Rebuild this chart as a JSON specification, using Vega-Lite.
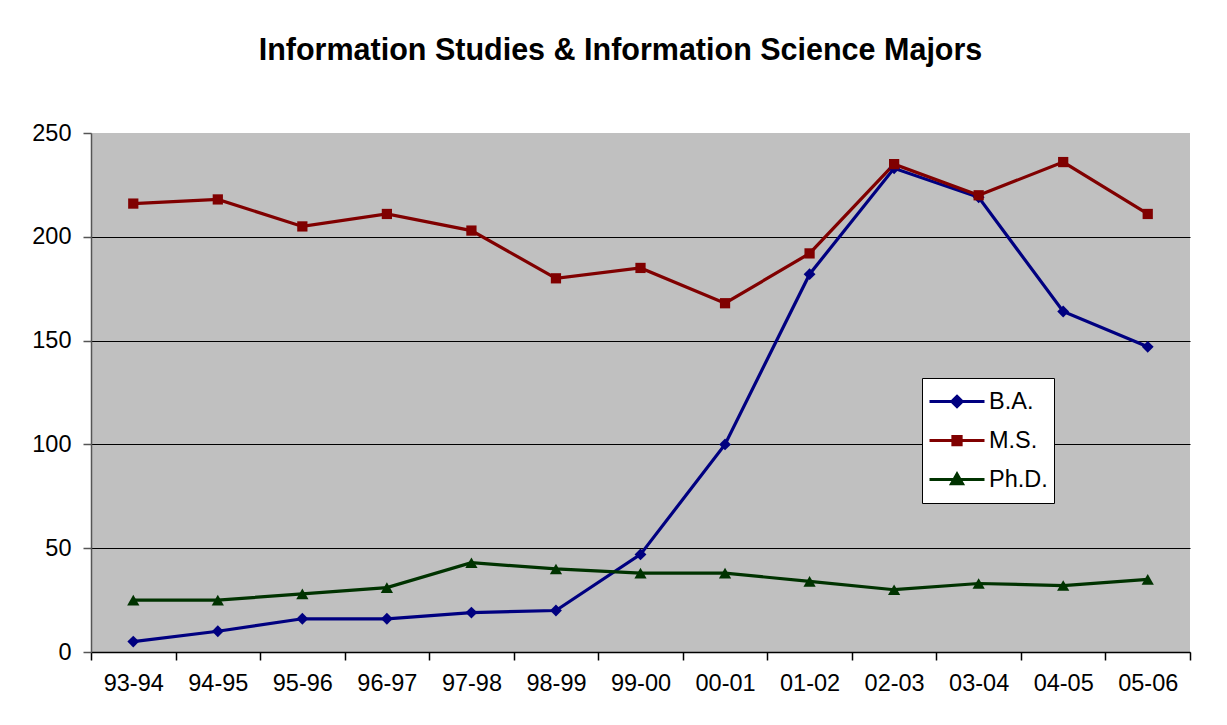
{
  "$schema": "https://vega.github.io/schema/vega-lite/v6.json",
  "width": 1099,
  "height": 519,
  "autosize": {"type": "none"},
  "padding": {"left": 91, "top": 133, "right": 37, "bottom": 73},
  "background": "white",
  "title": {
    "text": "Information Studies & Information Science Majors",
    "font": "Liberation Sans",
    "fontSize": 30.5,
    "fontWeight": "bold",
    "color": "black",
    "anchor": "middle",
    "frame": "group",
    "baseline": "alphabetic",
    "offset": 31,
    "dx": -20
  },
  "config": {
    "view": {"fill": "#C0C0C0", "stroke": null},
    "font": "Liberation Sans"
  },
  "data": {
    "values": [
      {"year": "93-94", "series": "B.A.", "value": 5},
      {"year": "94-95", "series": "B.A.", "value": 10},
      {"year": "95-96", "series": "B.A.", "value": 16},
      {"year": "96-97", "series": "B.A.", "value": 16},
      {"year": "97-98", "series": "B.A.", "value": 19},
      {"year": "98-99", "series": "B.A.", "value": 20},
      {"year": "99-00", "series": "B.A.", "value": 47},
      {"year": "00-01", "series": "B.A.", "value": 100},
      {"year": "01-02", "series": "B.A.", "value": 182},
      {"year": "02-03", "series": "B.A.", "value": 233},
      {"year": "03-04", "series": "B.A.", "value": 219},
      {"year": "04-05", "series": "B.A.", "value": 164},
      {"year": "05-06", "series": "B.A.", "value": 147},
      {"year": "93-94", "series": "M.S.", "value": 216},
      {"year": "94-95", "series": "M.S.", "value": 218},
      {"year": "95-96", "series": "M.S.", "value": 205},
      {"year": "96-97", "series": "M.S.", "value": 211},
      {"year": "97-98", "series": "M.S.", "value": 203},
      {"year": "98-99", "series": "M.S.", "value": 180},
      {"year": "99-00", "series": "M.S.", "value": 185},
      {"year": "00-01", "series": "M.S.", "value": 168},
      {"year": "01-02", "series": "M.S.", "value": 192},
      {"year": "02-03", "series": "M.S.", "value": 235},
      {"year": "03-04", "series": "M.S.", "value": 220},
      {"year": "04-05", "series": "M.S.", "value": 236},
      {"year": "05-06", "series": "M.S.", "value": 211},
      {"year": "93-94", "series": "Ph.D.", "value": 25},
      {"year": "94-95", "series": "Ph.D.", "value": 25},
      {"year": "95-96", "series": "Ph.D.", "value": 28},
      {"year": "96-97", "series": "Ph.D.", "value": 31},
      {"year": "97-98", "series": "Ph.D.", "value": 43},
      {"year": "98-99", "series": "Ph.D.", "value": 40},
      {"year": "99-00", "series": "Ph.D.", "value": 38},
      {"year": "00-01", "series": "Ph.D.", "value": 38},
      {"year": "01-02", "series": "Ph.D.", "value": 34},
      {"year": "02-03", "series": "Ph.D.", "value": 30},
      {"year": "03-04", "series": "Ph.D.", "value": 33},
      {"year": "04-05", "series": "Ph.D.", "value": 32},
      {"year": "05-06", "series": "Ph.D.", "value": 35}
    ]
  },
  "encoding": {
    "x": {
      "field": "year",
      "type": "ordinal",
      "sort": null,
      "scale": {"type": "band", "paddingInner": 0, "paddingOuter": 0},
      "axis": {
        "title": null,
        "labelAngle": 0,
        "labelFont": "Liberation Sans",
        "labelFontSize": 23.5,
        "labelColor": "black",
        "labelPadding": 11,
        "domainColor": "black",
        "domainWidth": 1.5,
        "tickColor": "black",
        "tickSize": 8,
        "tickWidth": 1.5,
        "tickBand": "extent",
        "grid": false
      }
    },
    "y": {
      "field": "value",
      "type": "quantitative",
      "scale": {"domain": [0, 250], "nice": false},
      "axis": {
        "title": null,
        "values": [0, 50, 100, 150, 200, 250],
        "labelFont": "Liberation Sans",
        "labelFontSize": 23.5,
        "labelColor": "black",
        "labelPadding": 12,
        "domainColor": "#555555",
        "domainWidth": 1.5,
        "tickColor": "#555555",
        "tickSize": 8,
        "tickWidth": 1.5,
        "grid": true,
        "gridColor": {"condition": {"test": "datum.value >= 250", "value": "transparent"}, "value": "#000000"},
        "gridOpacity": 1,
        "gridWidth": 1
      }
    },
    "color": {
      "field": "series",
      "type": "nominal",
      "scale": {"domain": ["B.A.", "M.S.", "Ph.D."], "range": ["#000080", "#800000", "#003300"]},
      "legend": {
        "title": null,
        "orient": "none",
        "legendX": 831,
        "legendY": 245,
        "fillColor": "white",
        "strokeColor": "black",
        "padding": 6,
        "symbolSize": 3025,
        "symbolStrokeWidth": 3,
        "clipHeight": 35,
        "rowPadding": 4,
        "labelOffset": 3,
        "labelFont": "Liberation Sans",
        "labelFontSize": 23.5,
        "labelColor": "black",
        "encode": {
          "symbols": {
            "update": {
              "shape": {"signal": "datum.value === 'B.A.' ? 'M-1,0L1,0M0,-0.19L0.19,0L0,0.19L-0.19,0Z' : datum.value === 'M.S.' ? 'M-1,0L1,0M-0.15,-0.15L0.15,-0.15L0.15,0.15L-0.15,0.15Z' : 'M-1,0L1,0M0,-0.2L0.2,0.15L-0.2,0.15Z'"},
              "fill": {"scale": "color", "field": "value"},
              "stroke": {"scale": "color", "field": "value"},
              "strokeWidth": {"value": 3},
              "opacity": {"value": 1},
              "fillOpacity": {"value": 1},
              "strokeOpacity": {"value": 1}
            }
          }
        }
      }
    }
  },
  "layer": [
    {
      "mark": {"type": "line", "strokeWidth": 3.2}
    },
    {
      "transform": [{"filter": "datum.series === 'B.A.'"}],
      "mark": {"type": "point", "filled": true, "opacity": 1, "shape": "diamond", "size": 140, "strokeWidth": 1}
    },
    {
      "transform": [{"filter": "datum.series === 'M.S.'"}],
      "mark": {"type": "point", "filled": true, "opacity": 1, "shape": "square", "size": 105, "strokeWidth": 1}
    },
    {
      "transform": [{"filter": "datum.series === 'Ph.D.'"}],
      "mark": {"type": "point", "filled": true, "opacity": 1, "shape": "triangle-up", "size": 150, "strokeWidth": 1}
    }
  ]
}
